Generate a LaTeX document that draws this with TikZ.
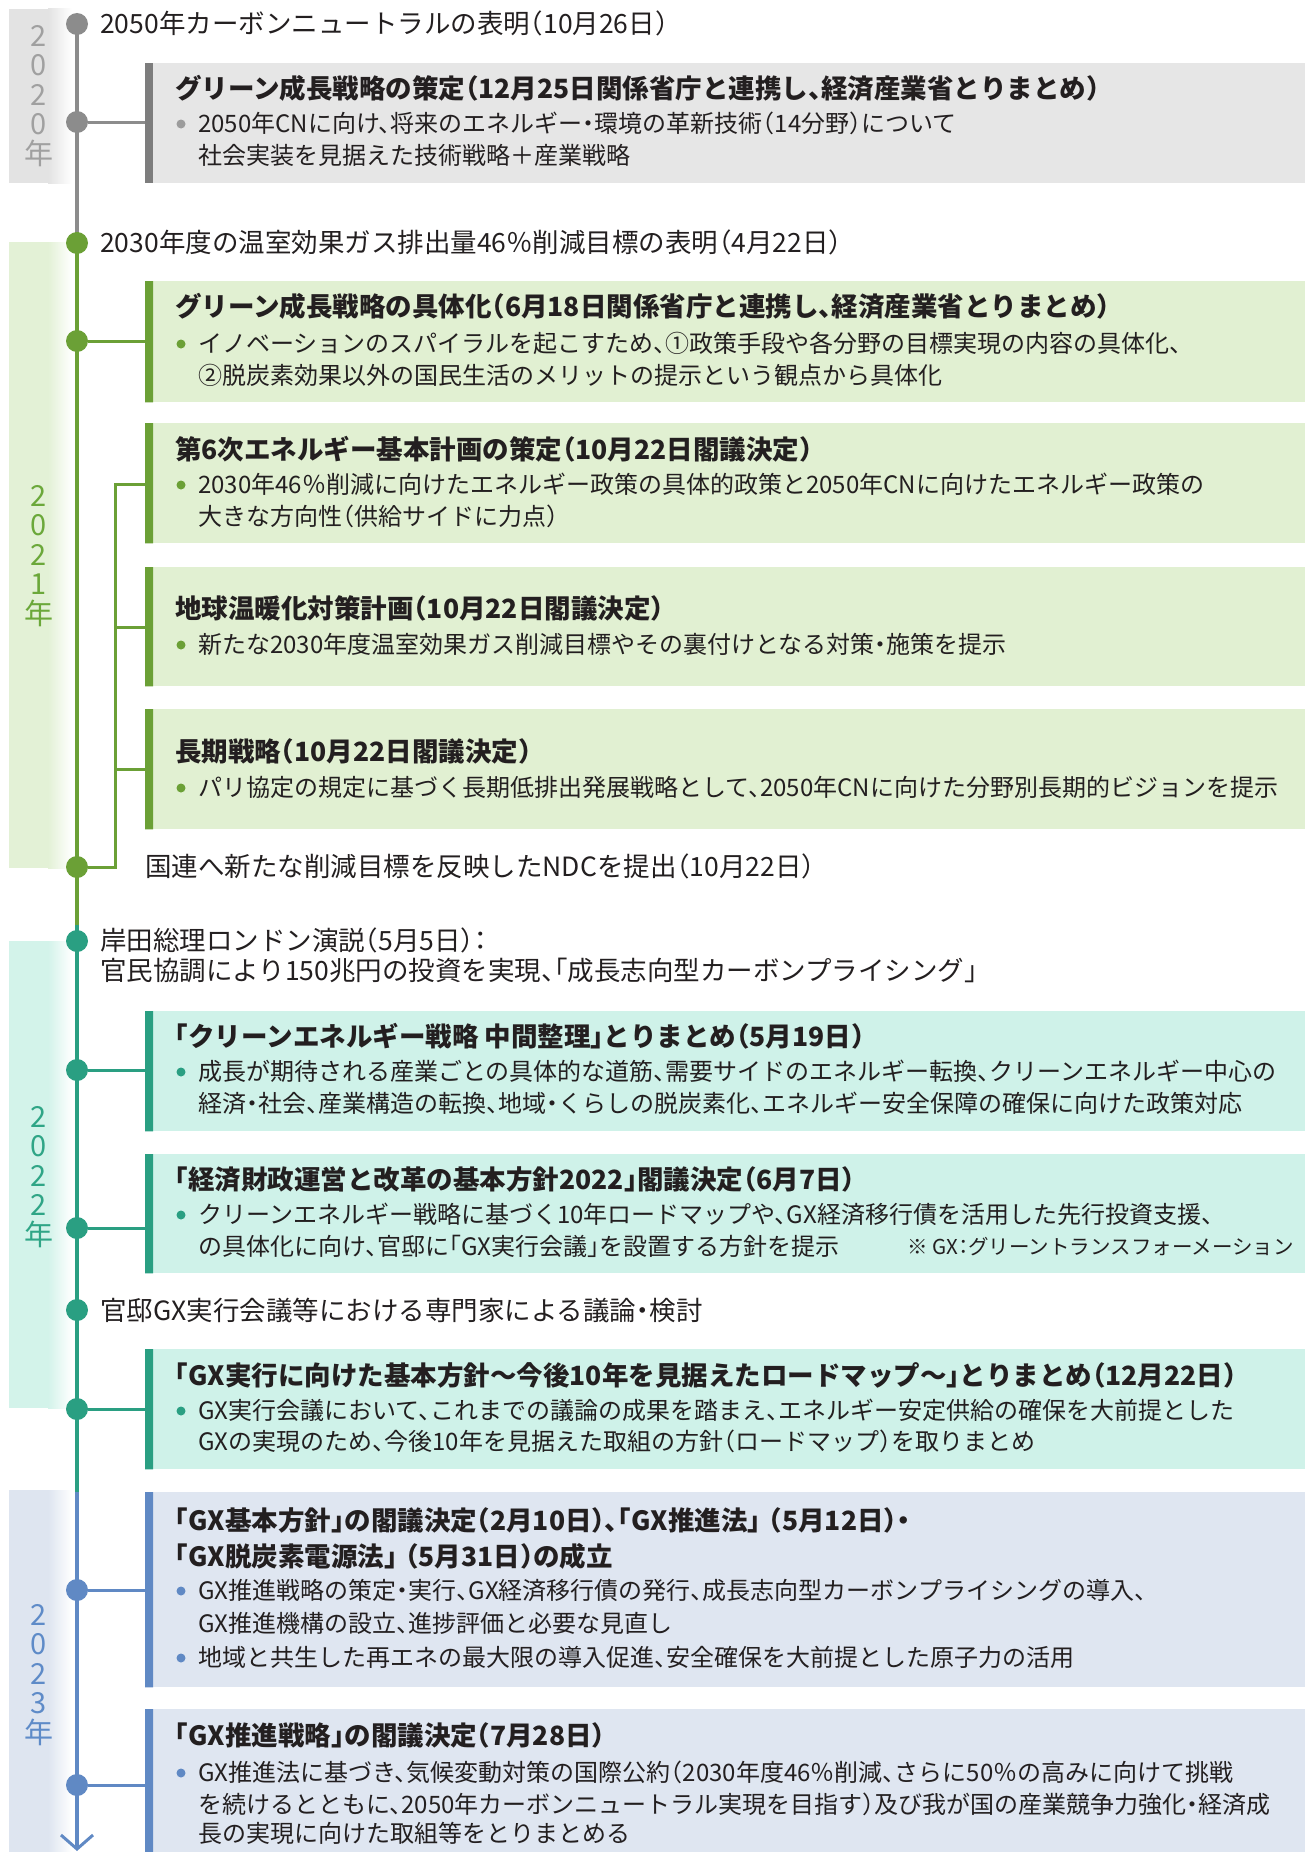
\documentclass[tikz,border=0pt]{standalone}
\usepackage{fontspec}
\setmainfont{Noto Sans CJK JP}[RawFeature=+halt]
\usetikzlibrary{arrows.meta}

\definecolor{ink}{HTML}{231F20}
\definecolor{grayline}{HTML}{8C8C8C}
\definecolor{graybox}{HTML}{E6E6E6}
\definecolor{graybar}{HTML}{7D7D7D}
\definecolor{graydot}{HTML}{9C9C9C}
\definecolor{grayband}{HTML}{E3E3E3}
\definecolor{grayyear}{HTML}{A0A0A0}
\definecolor{greenline}{HTML}{6BA036}
\definecolor{greenbox}{HTML}{E1F0D2}
\definecolor{greenband}{HTML}{E3F1D6}
\definecolor{greenyear}{HTML}{6BA83A}
\definecolor{tealline}{HTML}{2A9F82}
\definecolor{tealbox}{HTML}{CFF2E9}
\definecolor{tealband}{HTML}{D3F3EA}
\definecolor{tealyear}{HTML}{2FA586}
\definecolor{blueline}{HTML}{6089C4}
\definecolor{bluebox}{HTML}{DFE6F1}
\definecolor{blueband}{HTML}{DEE5F0}
\definecolor{blueyear}{HTML}{5E8BC8}

\begin{document}
\begin{tikzpicture}[x=1pt, y=-1pt,
		every node/.style={inner sep=0pt, text=ink},
		evt/.style={circle, fill=#1, minimum size=22pt},
		panel/.style={fill=#1, anchor=north west, minimum width=1160pt},
		big/.style={anchor=west, text height=22pt, text depth=3pt, font=\fontsize{26.5}{30}\selectfont},
		ttl/.style={anchor=west, text height=22pt, text depth=3pt, font=\fontsize{26.5}{30}\selectfont\bfseries},
		txt/.style={anchor=west, text height=20pt, text depth=2.8pt, font=\fontsize{24}{28}\selectfont},
		note/.style={anchor=west, text height=17pt, text depth=2.4pt, font=\fontsize{20.5}{24}\selectfont},
		yr/.style={align=center, text=#1, font=\fontsize{29}{29.5}\selectfont}]
		\useasboundingbox (0,0) rectangle (1305,1852);

		% year bands
		\fill[grayband] (9,9) rectangle (48,183);
		\shade[left color=grayband, right color=white] (48,9) rectangle (72,183);
		\fill[greenband] (9,242) rectangle (48,868);
		\shade[left color=greenband, right color=white] (48,242) rectangle (72,868);
		\fill[tealband] (9,941) rectangle (48,1408);
		\shade[left color=tealband, right color=white] (48,941) rectangle (72,1408);
		\fill[blueband] (9,1490) rectangle (48,1852);
		\shade[left color=blueband, right color=white] (48,1490) rectangle (72,1852);

		\path (39,96) node[yr=grayyear] (y20) {2\\0\\2\\0\\年}
		(39,556) node[yr=greenyear] (y21) {2\\0\\2\\1\\年}
		(39,1177) node[yr=tealyear] (y22) {2\\0\\2\\2\\年}
		(39,1675) node[yr=blueyear] (y23) {2\\0\\2\\3\\年};

		% panels
		\path (145,63) node[panel=graybox, minimum height=120pt] (b1) {}
		(145,281) node[panel=greenbox, minimum height=121pt] (b2) {}
		(145,423) node[panel=greenbox, minimum height=120pt] (b3) {}
		(145,567) node[panel=greenbox, minimum height=119pt] (b4) {}
		(145,709) node[panel=greenbox, minimum height=120pt] (b5) {}
		(145,1011) node[panel=tealbox, minimum height=120pt] (b6) {}
		(145,1154) node[panel=tealbox, minimum height=119pt] (b7) {}
		(145,1349) node[panel=tealbox, minimum height=120pt] (b8) {}
		(145,1492) node[panel=bluebox, minimum height=195pt] (b9) {}
		(145,1709) node[panel=bluebox, minimum height=143pt] (b10) {};

		\fill[graybar] (b1.north west) rectangle ([xshift=8pt]b1.south west);
		\fill[greenline] (b2.north west) rectangle ([xshift=8pt]b2.south west)
		(b3.north west) rectangle ([xshift=8pt]b3.south west)
		(b4.north west) rectangle ([xshift=8pt]b4.south west)
		(b5.north west) rectangle ([xshift=8pt]b5.south west);
		\fill[tealline] (b6.north west) rectangle ([xshift=8pt]b6.south west)
		(b7.north west) rectangle ([xshift=8pt]b7.south west)
		(b8.north west) rectangle ([xshift=8pt]b8.south west);
		\fill[blueline] (b9.north west) rectangle ([xshift=8pt]b9.south west)
		(b10.north west) rectangle ([xshift=8pt]b10.south west);

		% timeline
		\path (77,24) node[evt=grayline] (c1) {}
		(77,122) node[evt=grayline] (c2) {}
		(77,243) node[evt=greenline] (c3) {}
		(77,341) node[evt=greenline] (c4) {}
		(77,867) node[evt=greenline] (c5) {}
		(77,941) node[evt=tealline] (c6) {}
		(77,1070) node[evt=tealline] (c7) {}
		(77,1228) node[evt=tealline] (c8) {}
		(77,1310) node[evt=tealline] (c9) {}
		(77,1409) node[evt=tealline] (c10) {}
		(77,1590) node[evt=blueline] (c11) {}
		(77,1785) node[evt=blueline] (c12) {};

		\coordinate (k1) at (77,232);
		\coordinate (k2) at (77,925);
		\coordinate (k3) at (77,1492);
		\coordinate (k4) at (77,1851);
		\coordinate (j1) at (115,484);
		\coordinate (j2) at (115,627);
		\coordinate (j3) at (115,769);

		\draw[line width=4pt, grayline] (c1.center) -- (k1);
		\draw[line width=4pt, greenline] (k1) -- (k2);
		\draw[line width=4pt, tealline] (k2) -- (k3);
		\draw[line width=4pt, blueline, -{Straight Barb[length=14pt, width=32pt, line width=3pt]}] (k3) -- (k4);

		\draw[line width=3pt, grayline] (c2) -- (c2 -| b1.west);
		\draw[line width=3pt, greenline] (c4) -- (c4 -| b2.west)
		(c5) -| (j1) -- (j1 -| b3.west)
		(j2) -- (j2 -| b4.west)
		(j3) -- (j3 -| b5.west);
		\draw[line width=3pt, tealline] (c7) -- (c7 -| b6.west)
		(c8) -- (c8 -| b7.west)
		(c10) -- (c10 -| b8.west);
		\draw[line width=3pt, blueline] (c11) -- (c11 -| b9.west)
		(c12) -- (c12 -| b10.west);

		% texts
		\path (100,24) node[big] (e1) {2050年カーボンニュートラルの表明（10月26日）}
		(175,89) node[ttl] (h1) {グリーン成長戦略の策定（12月25日関係省庁と連携し、経済産業省とりまとめ）}
		(198,124) node[txt] (l1a) {2050年CNに向け、将来のエネルギー・環境の革新技術（14分野）について}
		(198,156) node[txt] (l1b) {社会実装を見据えた技術戦略＋産業戦略};

		\path (100,243) node[big] (e2) {2030年度の温室効果ガス排出量46％削減目標の表明（4月22日）}
		(175,307) node[ttl] (h2) {グリーン成長戦略の具体化（6月18日関係省庁と連携し、経済産業省とりまとめ）}
		(198,344) node[txt] (l2a) {イノベーションのスパイラルを起こすため、①政策手段や各分野の目標実現の内容の具体化、}
		(198,376) node[txt] (l2b) {②脱炭素効果以外の国民生活のメリットの提示という観点から具体化}
		(175,450) node[ttl] (h3) {第6次エネルギー基本計画の策定（10月22日閣議決定）}
		(198,485) node[txt] (l3a) {2030年46％削減に向けたエネルギー政策の具体的政策と2050年CNに向けたエネルギー政策の}
		(198,517) node[txt] (l3b) {大きな方向性（供給サイドに力点）}
		(175,609) node[ttl] (h4) {地球温暖化対策計画（10月22日閣議決定）}
		(198,645) node[txt] (l4a) {新たな2030年度温室効果ガス削減目標やその裏付けとなる対策・施策を提示}
		(175,752) node[ttl] (h5) {長期戦略（10月22日閣議決定）}
		(198,788) node[txt] (l5a) {パリ協定の規定に基づく長期低排出発展戦略として、2050年CNに向けた分野別長期的ビジョンを提示}
		(145,867) node[big] (e3) {国連へ新たな削減目標を反映したNDCを提出（10月22日）};

		\path (100,941) node[big] (e4) {岸田総理ロンドン演説（5月5日）：}
		(100,971) node[big] (e4b) {官民協調により150兆円の投資を実現、「成長志向型カーボンプライシング」}
		(175,1037) node[ttl] (h6) {「クリーンエネルギー戦略 中間整理」とりまとめ（5月19日）}
		(198,1072) node[txt] (l6a) {成長が期待される産業ごとの具体的な道筋、需要サイドのエネルギー転換、クリーンエネルギー中心の}
		(198,1104) node[txt] (l6b) {経済・社会、産業構造の転換、地域・くらしの脱炭素化、エネルギー安全保障の確保に向けた政策対応}
		(175,1180) node[ttl] (h7) {「経済財政運営と改革の基本方針2022」閣議決定（6月7日）}
		(198,1215) node[txt] (l7a) {クリーンエネルギー戦略に基づく10年ロードマップや、GX経済移行債を活用した先行投資支援、}
		(198,1247) node[txt] (l7b) {の具体化に向け、官邸に「GX実行会議」を設置する方針を提示}
		(907,1247) node[note] (n7) {※ GX：グリーントランスフォーメーション}
		(100,1311) node[big] (e5) {官邸GX実行会議等における専門家による議論・検討}
		(175,1376) node[ttl] (h8) {「GX実行に向けた基本方針～今後10年を見据えたロードマップ～」とりまとめ（12月22日）}
		(198,1411) node[txt] (l8a) {GX実行会議において、これまでの議論の成果を踏まえ、エネルギー安定供給の確保を大前提とした}
		(198,1442) node[txt] (l8b) {GXの実現のため、今後10年を見据えた取組の方針（ロードマップ）を取りまとめ};

		\path (175,1521) node[ttl] (h9) {「GX基本方針」の閣議決定（2月10日）、「GX推進法」\hspace{0.3em}（5月12日）・}
		(175,1557) node[ttl] (h9b) {「GX脱炭素電源法」\hspace{0.3em}（5月31日）の成立}
		(198,1591) node[txt] (l9a) {GX推進戦略の策定・実行、GX経済移行債の発行、成長志向型カーボンプライシングの導入、}
		(198,1624) node[txt] (l9b) {GX推進機構の設立、進捗評価と必要な見直し}
		(198,1658) node[txt] (l9c) {地域と共生した再エネの最大限の導入促進、安全確保を大前提とした原子力の活用}
		(175,1736) node[ttl] (h10) {「GX推進戦略」の閣議決定（7月28日）}
		(198,1773) node[txt] (l10a) {GX推進法に基づき、気候変動対策の国際公約（2030年度46％削減、さらに50％の高みに向けて挑戦}
		(198,1805) node[txt] (l10b) {を続けるとともに、2050年カーボンニュートラル実現を目指す）及び我が国の産業競争力強化・経済成}
		(198,1834) node[txt] (l10c) {長の実現に向けた取組等をとりまとめる};

		% bullets
		\fill[graydot] ([xshift=-17pt]l1a.west) circle (4.5pt);
		\fill[greenline] ([xshift=-17pt]l2a.west) circle (4.5pt)
		([xshift=-17pt]l3a.west) circle (4.5pt)
		([xshift=-17pt]l4a.west) circle (4.5pt)
		([xshift=-17pt]l5a.west) circle (4.5pt);
		\fill[tealline] ([xshift=-17pt]l6a.west) circle (4.5pt)
		([xshift=-17pt]l7a.west) circle (4.5pt)
		([xshift=-17pt]l8a.west) circle (4.5pt);
		\fill[blueline] ([xshift=-17pt]l9a.west) circle (4.5pt)
		([xshift=-17pt]l9c.west) circle (4.5pt)
		([xshift=-17pt]l10a.west) circle (4.5pt);

	\end{tikzpicture}
\end{document}
